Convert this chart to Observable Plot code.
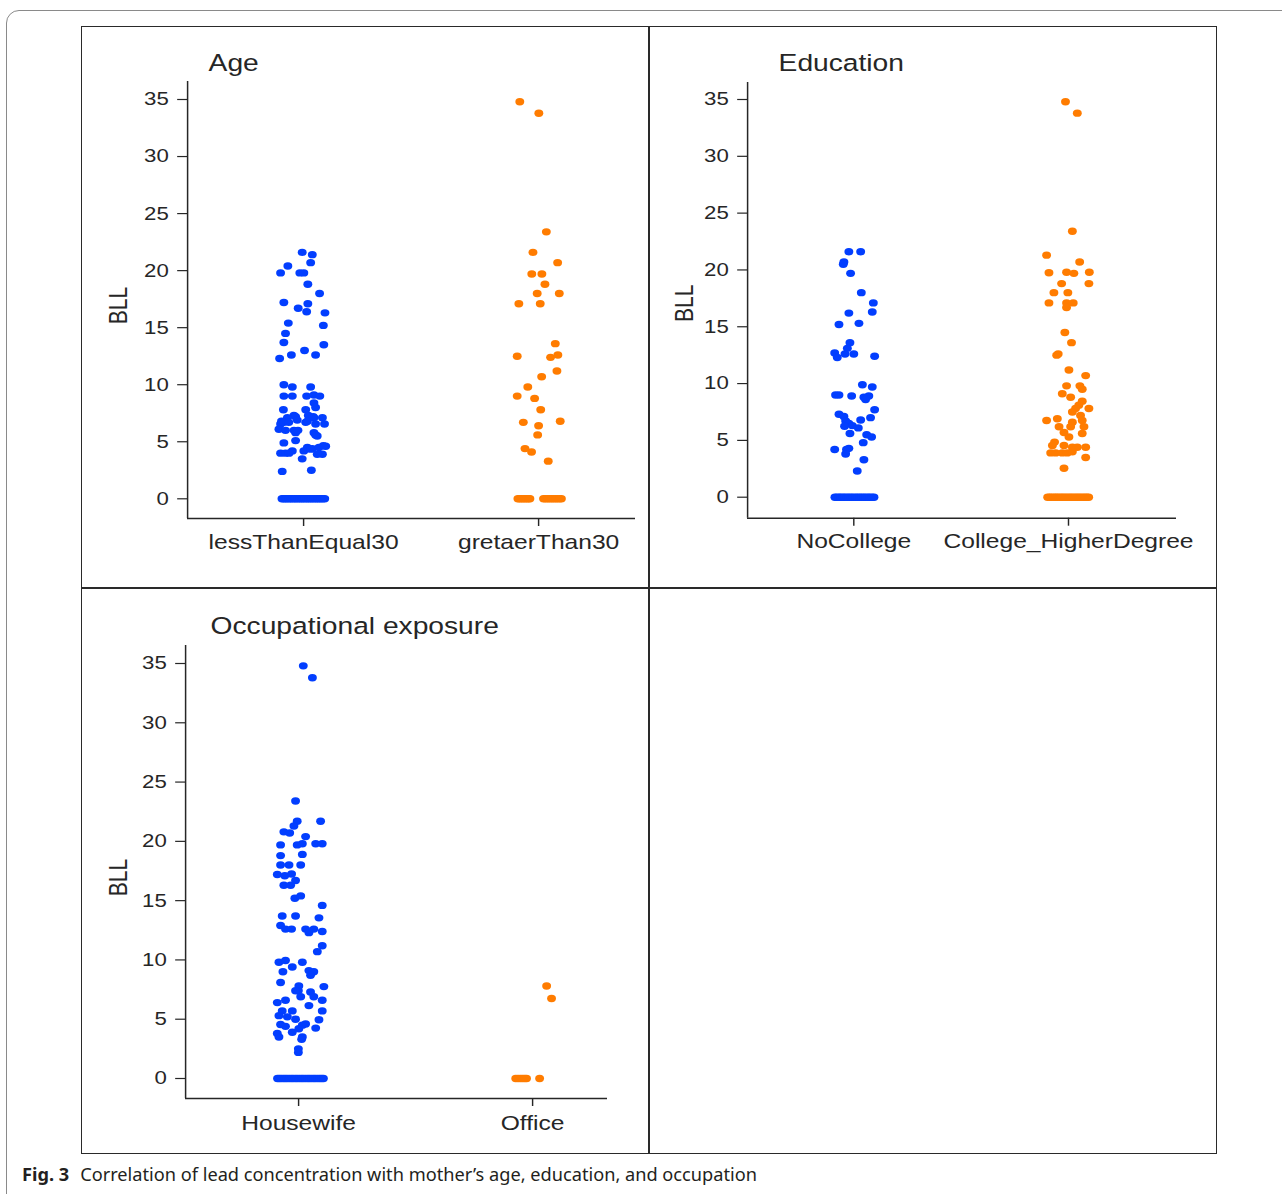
<!DOCTYPE html>
<html>
<head>
<meta charset="utf-8">
<script src="https://cdn.jsdelivr.net/npm/d3@7"></script>
<script src="https://cdn.jsdelivr.net/npm/@observablehq/plot@0.6"></script>
<style>
  html, body { margin: 0; padding: 0; background: #fff; }
  body { width: 1282px; height: 1194px; overflow: hidden; position: relative; }
  .abs { position: absolute; }
  .outer { left: 6px; top: 10px; width: 1300px; height: 1220px; border: 1px solid #8a8a8a; border-top-left-radius: 13px; box-sizing: border-box; }
  .grid { border: 1.5px solid #2a2a2a; box-sizing: border-box; }
  .vline { background: #2a2a2a; }
  .caption { left: 22px; top: 1162px; font-family: "Noto Sans", "Open Sans", sans-serif; font-size: 18.2px; color: #231f20; white-space: nowrap; }
  .caption b { font-weight: 700; margin-right: 11px; }
</style>
</head>
<body>
<div class="abs outer"></div>
<div class="abs grid" style="left:81px;top:26px;width:1136px;height:1128px;"></div>
<div class="abs vline" style="left:648px;top:26px;width:1.5px;height:1128px;"></div>
<div class="abs vline" style="left:81px;top:587px;width:1136px;height:1.5px;"></div>
<div id="charts"></div>
<div class="abs caption"><b>Fig. 3</b>Correlation of lead concentration with mother’s age, education, and occupation</div>

<script>
// ---------------- DATA ([BLL, horizontal jitter in category units]) ----------------
const yTicks = [0, 5, 10, 15, 20, 25, 30, 35];
const ageCats = ["lessThanEqual30", "gretaerThan30"];
const eduCats = ["NoCollege", "College_HigherDegree"];
const occCats = ["Housewife", "Office"];
const panelTitles = ["Age", "Education", "Occupational exposure"];
const yLabel = "BLL";

const ageLE30 = [
  [21.6,-0.006],[21.4,0.037],[20.7,0.030],[20.4,-0.067],[19.8,-0.098],[19.8,-0.016],[19.8,0.001],
  [18.8,0.018],[18.0,0.068],[17.2,-0.084],[17.1,0.018],[16.7,-0.023],[16.4,0.013],[16.3,0.091],
  [15.4,-0.065],[15.2,0.084],[14.5,-0.077],[13.7,-0.084],[13.5,0.086],[13.0,0.004],[12.6,-0.052],
  [12.6,0.051],[12.3,-0.102],
  [10.0,-0.084],[9.8,-0.048],[9.8,0.030],[9.0,-0.084],[9.0,-0.048],[9.0,0.013],[9.1,0.044],[9.0,0.069],
  [8.4,0.044],[7.8,-0.086],[7.8,0.009],[8.0,0.051],[7.3,-0.041],[7.1,-0.069],[6.8,-0.094],[7.3,0.020],
  [7.1,0.044],[7.1,0.080],[6.55,-0.098],[6.7,-0.084],[6.7,0.009],[6.55,0.051],[6.55,0.089],[6.1,-0.105],
  [6.0,-0.077],[5.8,-0.034],[6.0,-0.041],[5.8,0.044],[5.5,0.058],[4.9,-0.084],[5.1,-0.034],[4.6,0.094],
  [4.5,0.016],[4.4,0.037],[4.5,0.065],[4.2,0.001],[4.0,-0.098],[4.0,-0.077],[4.2,-0.048],[3.9,0.080],
  [3.5,-0.006],[2.4,-0.091],[2.5,0.033],
  [7.2,-0.034],[6.9,-0.027],[6.8,0.016],[7.2,0.041],[6.7,-0.063],[5.6,0.051],[4.0,-0.062],[4.35,0.030],
  [4.65,0.084],[3.9,0.058],[6.0,-0.024],
  [0,-0.092],[0,-0.085],[0,-0.077],[0,-0.071],[0,-0.062],[0,-0.055],[0,-0.048],[0,-0.039],[0,-0.033],
  [0,-0.024],[0,-0.017],[0,-0.009],[0,-0.002],[0,0.006],[0,0.014],[0,0.021],[0,0.029],[0,0.036],
  [0,0.044],[0,0.052],[0,0.059],[0,0.067],[0,0.074],[0,0.082],[0,0.090]
];
const ageGT30 = [
  [34.8,-0.080],[33.8,0.001],[23.4,0.033],[21.6,-0.024],[20.7,0.081],[19.7,-0.029],[19.7,0.014],
  [18.8,0.027],[18.0,-0.006],[18.0,0.088],[17.1,-0.084],[17.1,0.007],[13.6,0.071],[12.5,-0.091],
  [12.4,0.051],[12.6,0.082],[11.2,0.078],[10.7,0.013],[9.8,-0.046],[9.0,-0.091],[8.8,-0.017],
  [7.8,0.009],[6.7,-0.065],[6.4,0.000],[6.8,0.092],[5.6,-0.004],[4.4,-0.058],[4.1,-0.030],[3.3,0.041],
  [0,-0.088],[0,-0.081],[0,-0.073],[0,-0.066],[0,-0.058],[0,-0.051],[0,-0.043],[0,-0.037],
  [0,0.021],[0,0.029],[0,0.038],[0,0.046],[0,0.055],[0,0.063],[0,0.072],[0,0.080],[0,0.089],[0,0.097]
];
const eduNo = [
  [21.6,-0.023],[21.6,0.032],[20.7,-0.046],[20.5,-0.049],[19.7,-0.015],[18.0,0.035],[17.1,0.091],
  [16.3,0.086],[16.2,-0.023],[15.2,-0.069],[15.3,0.024],[13.6,-0.018],[13.1,-0.030],[12.7,-0.089],
  [12.3,-0.077],[12.6,-0.041],[12.6,0.000],[12.4,0.097],[9.9,0.040],[9.7,0.086],[9.0,-0.085],
  [9.0,-0.069],[8.9,-0.010],[8.8,0.047],[8.9,0.070],[8.6,0.055],[7.7,0.097],[7.3,-0.069],[7.1,-0.046],
  [7.0,0.078],[6.7,-0.038],[6.8,0.032],[6.5,-0.023],[6.3,-0.007],[6.25,-0.043],[6.1,0.021],[5.6,-0.018],
  [5.5,0.060],[5.3,0.083],[4.8,0.044],[4.2,-0.089],[4.2,-0.034],[4.3,-0.023],[3.8,-0.038],[3.3,0.047],
  [2.3,0.016],
  [0,-0.088],[0,-0.079],[0,-0.068],[0,-0.061],[0,-0.050],[0,-0.042],[0,-0.031],[0,-0.022],[0,-0.012],
  [0,-0.003],[0,0.008],[0,0.017],[0,0.027],[0,0.036],[0,0.046],[0,0.055],[0,0.066],[0,0.074],[0,0.085],[0,0.094]
];
const eduCollege = [
  [34.8,-0.014],[33.8,0.041],[23.4,0.018],[21.3,-0.102],[20.7,0.052],[19.75,-0.091],[19.8,-0.009],
  [19.7,0.025],[19.8,0.097],[18.8,-0.032],[18.8,0.095],[18.0,-0.068],[18.0,-0.003],[17.1,-0.091],
  [17.1,-0.009],[17.1,0.022],[16.7,-0.009],[14.5,-0.017],[13.6,0.014],[12.6,-0.048],[12.5,-0.055],
  [11.2,0.002],[10.7,0.080],[9.8,-0.009],[9.8,0.053],[9.5,0.064],[9.1,-0.029],[8.8,0.010],[8.45,0.064],
  [8.1,0.048],[7.8,0.033],[7.8,0.095],[7.5,0.018],[6.75,-0.102],[6.9,-0.052],[7.2,0.056],[6.75,0.064],
  [6.2,-0.044],[6.6,0.018],[6.2,0.010],[6.2,0.072],[5.7,-0.021],[5.6,0.064],[5.3,0.002],[4.85,-0.065],
  [4.55,-0.075],[4.55,-0.021],[4.4,0.018],[4.4,0.041],[4.4,0.080],[3.9,-0.083],[3.9,-0.060],[3.9,-0.029],
  [3.9,-0.006],[4.0,0.018],[3.5,0.080],[2.55,-0.021],
  [0,-0.097],[0,-0.088],[0,-0.080],[0,-0.070],[0,-0.061],[0,-0.053],[0,-0.044],[0,-0.034],[0,-0.026],
  [0,-0.016],[0,-0.007],[0,0.003],[0,0.012],[0,0.021],[0,0.031],[0,0.040],[0,0.049],[0,0.058],
  [0,0.068],[0,0.077],[0,0.086],[0,0.094]
];
const occHousewife = [
  [34.8,0.020],[33.8,0.059],[23.4,-0.013],[21.7,-0.006],[21.3,-0.020],[21.7,0.094],[20.8,-0.063],
  [20.7,-0.038],[20.4,0.030],[19.7,-0.077],[19.7,-0.006],[19.8,0.016],[19.8,0.073],[19.8,0.101],
  [18.8,-0.077],[18.9,0.016],[18.0,-0.077],[18.0,-0.041],[18.0,0.009],[17.2,-0.091],[17.1,-0.059],
  [17.25,-0.030],[16.7,-0.013],[16.3,-0.063],[16.3,-0.034],[15.2,-0.016],[15.4,0.009],[14.6,0.101],
  [13.7,-0.070],[13.7,-0.013],[13.55,0.087],[12.9,-0.077],[12.6,-0.056],[12.6,-0.030],[12.6,0.030],
  [12.3,0.044],[12.6,0.065],[12.4,0.101],[11.2,0.101],[10.7,0.080],[9.8,-0.084],[9.95,-0.056],
  [9.8,0.016],[9.4,-0.027],[9.0,-0.067],[9.1,0.044],[9.0,0.065],[8.7,0.051],[8.1,-0.077],[7.8,0.001],
  [7.4,-0.001],[7.4,-0.013],[7.75,0.108],[7.3,0.051],[6.9,0.065],[6.9,0.009],[6.4,-0.091],[6.6,-0.056],
  [6.6,0.101],[6.15,0.044],[5.7,-0.070],[5.7,-0.027],[5.3,-0.084],[5.2,-0.048],[5.0,-0.013],[5.7,0.101],
  [4.95,0.087],[4.55,-0.077],[4.4,-0.056],[4.5,0.016],[4.6,0.030],[4.2,0.001],[4.25,0.073],[3.8,-0.091],
  [3.9,-0.027],[3.5,-0.084],[3.5,0.016],[3.3,0.013],[2.5,-0.001],[2.2,-0.001],
  [0,-0.090],[0,-0.082],[0,-0.074],[0,-0.065],[0,-0.057],[0,-0.049],[0,-0.040],[0,-0.031],[0,-0.023],
  [0,-0.014],[0,-0.006],[0,0.003],[0,0.012],[0,0.020],[0,0.029],[0,0.038],[0,0.046],[0,0.055],
  [0,0.064],[0,0.072],[0,0.081],[0,0.090],[0,0.098],[0,0.106]
];
const occOffice = [
  [7.8,0.060],[6.75,0.081],
  [0,-0.072],[0,-0.062],[0,-0.052],[0,-0.043],[0,-0.034],[0,-0.026],[0,0.030]
];

// ---------------- DRAWING ----------------
const BLUE = "#023eff", ORANGE = "#ff7c00", INK = "#262626";
const STRETCH = 1.2; // the original figure is horizontally stretched

function rows(arr, cat) { return arr.map(([v, j]) => ({cat, v, x: cat + j})); }

function panel(o) {
  const s = STRETCH;
  const kx = o.x1px - o.x0px;
  const xDomain = [(o.L - o.x0px) / kx, (o.R - o.x0px) / kx];
  const ky = (o.y0px - o.y35px) / 35;
  const yDomain = [(o.y0px - o.B) / ky, (o.y0px - o.T) / ky];
  const data0 = rows(o.groups[0], 0);
  const data1 = rows(o.groups[1], 1);
  const svg = Plot.plot({
    width: o.width / s,
    height: o.height,
    marginLeft: (o.L - o.left) / s,
    marginRight: (o.left + o.width - o.R) / s,
    marginTop: o.T - o.top,
    marginBottom: o.top + o.height - o.B,
    style: {fontFamily: "'Liberation Sans', Arial, sans-serif", color: INK, background: "transparent", overflow: "visible"},
    x: {type: "linear", domain: xDomain},
    y: {type: "linear", domain: yDomain},
    marks: [
      Plot.axisY({ticks: yTicks, tickSize: 8.2, tickPadding: 7.5, fontSize: 18.5, strokeWidth: 1.2, label: null, stroke: INK}),
      Plot.axisX({ticks: [0, 1], tickFormat: i => o.cats[i], tickSize: 8, tickPadding: o.xPad, fontSize: 20.5, strokeWidth: 1.2, label: null, stroke: INK}),
      Plot.ruleX([xDomain[0]], {stroke: INK, strokeWidth: 1.25}),
      Plot.ruleY([yDomain[0]], {stroke: INK, strokeWidth: 1.5}),
      Plot.dot(data0, {x: "x", y: "v", r: 3.7, fill: BLUE, stroke: "none"}),
      Plot.dot(data1, {x: "x", y: "v", r: 3.7, fill: ORANGE, stroke: "none"}),
      Plot.text([o.title], {frameAnchor: "top-left", textAnchor: "start", lineAnchor: "bottom",
        dx: o.titleDx / s, dy: o.titleDy, fontSize: 23.5, fill: INK}),
      Plot.text([yLabel], {frameAnchor: "left", rotate: -90, textAnchor: "middle", lineAnchor: "middle",
        dx: o.bllDx / s, dy: o.bllDy, fontSize: 21, fill: INK})
    ]
  });
  svg.setAttribute("width", o.width);
  svg.setAttribute("height", o.height);
  svg.setAttribute("preserveAspectRatio", "none");
  svg.style.position = "absolute";
  svg.style.left = o.left + "px";
  svg.style.top = o.top + "px";
  svg.style.width = o.width + "px";
  svg.style.height = o.height + "px";
  svg.style.maxWidth = "none";
  document.getElementById("charts").appendChild(svg);
}

panel({
  left: 86, top: 30, width: 560, height: 555,
  L: 187, R: 635, T: 81, B: 518,
  x0px: 303, x1px: 538, y0px: 498.3, y35px: 99,
  cats: ageCats, groups: [ageLE30, ageGT30], title: panelTitles[0],
  titleDx: 21, titleDy: -11, bllDx: -69, bllDy: 5.5, xPad: 8
});
panel({
  left: 655, top: 30, width: 558, height: 555,
  L: 747, R: 1176, T: 82, B: 517.7,
  x0px: 853.2, x1px: 1067.9, y0px: 496.7, y35px: 99,
  cats: eduCats, groups: [eduNo, eduCollege], title: panelTitles[1],
  titleDx: 31, titleDy: -12, bllDx: -63, bllDy: 3, xPad: 7
});
panel({
  left: 86, top: 595, width: 560, height: 555,
  L: 185, R: 607, T: 645, B: 1098,
  x0px: 298, x1px: 532, y0px: 1078, y35px: 663,
  cats: occCats, groups: [occHousewife, occOffice], title: panelTitles[2],
  titleDx: 25, titleDy: -11.5, bllDx: -67, bllDy: 5.5, xPad: 9
});
</script>
</body>
</html>
